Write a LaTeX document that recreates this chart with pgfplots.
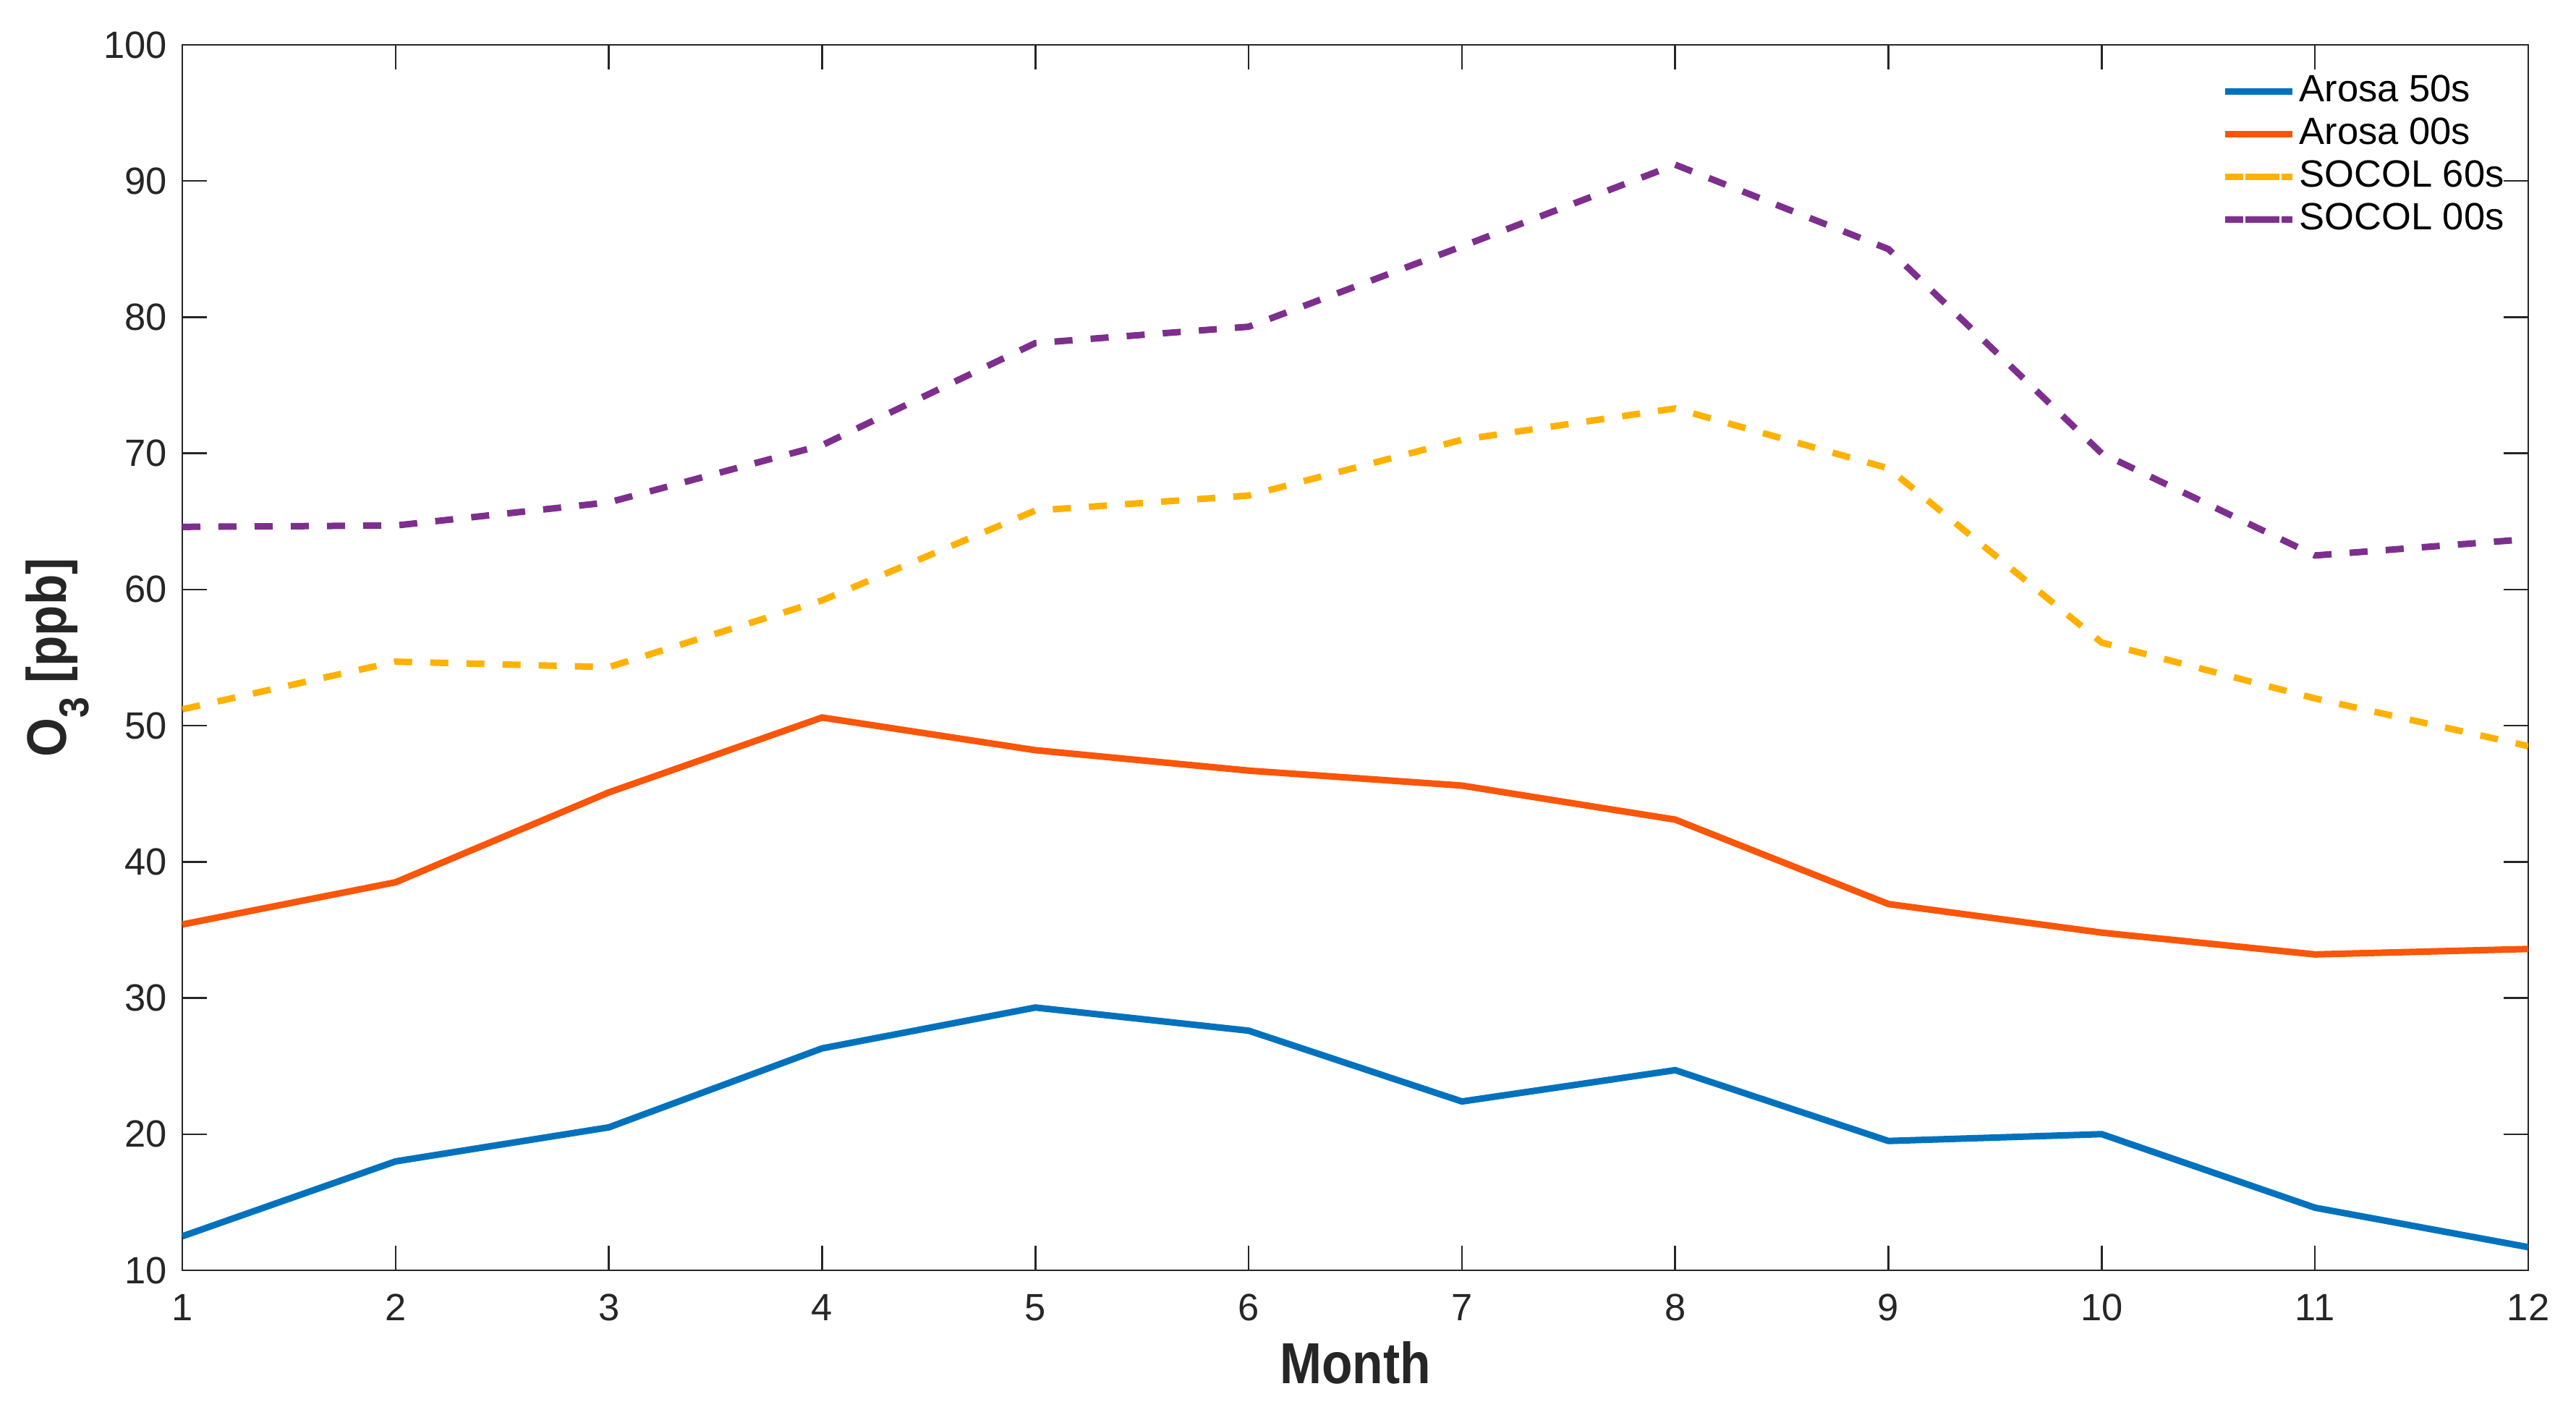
\documentclass[border=0pt]{standalone}
\usepackage{pgfplots}
\pgfplotsset{compat=1.18}
\usepackage{fontspec}
\setmainfont{Liberation Sans}

\definecolor{arosaA}{HTML}{0072BD}
\definecolor{arosaB}{HTML}{FA5508}
\definecolor{socolA}{HTML}{FFB100}
\definecolor{socolB}{HTML}{7E2F8E}
\definecolor{axgray}{HTML}{262626}

\newcommand{\tickfont}{\fontsize{10.5}{12.6}\selectfont}

\begin{document}
\begin{tikzpicture}
  \path[use as bounding box] (-50.4pt,-39.8pt) rectangle (661.8pt,351.2pt);
  \begin{axis}[
      scale only axis, width=648.6pt, height=338.8pt,
      xmin=1, xmax=12, ymin=10, ymax=100,
      xtick={1,...,12}, ytick={10,20,...,100},
      tick align=inside, major tick length=6.8pt,
      axis line style={axgray, line width=0.55pt},
      every tick/.style={axgray, line width=0.5pt},
      /pgf/number format/assume math mode=true,
      ticklabel style={font=\tickfont, text=axgray, inner sep=0pt},
      xticklabel style={anchor=base, yshift=-13.8pt},
      yticklabel style={anchor=east, xshift=-4pt},
      xlabel={\scalebox{0.87}[1]{\fontsize{16}{19}\selectfont\bfseries Month}},
      xlabel style={at={(rel axis cs:0.5,0)}, anchor=base, yshift=-31.2pt, text=axgray},
      ylabel={\scalebox{0.9}[1]{\fontsize{15.4}{17}\selectfont\bfseries O\raisebox{-6.2pt}{\fontsize{11.5}{12}\selectfont 3} [ppb]}},
      ylabel style={at={(rel axis cs:0,0.5)}, anchor=base, yshift=32pt, inner sep=0pt, text=axgray},
      legend cell align=left,
      legend image code/.code={\draw[#1,overlay] (-5.6pt,0pt) -- (12.6pt,0pt); \path (0pt,0pt) -- (13pt,0pt);},
      legend style={at={(rel axis cs:1,1)}, anchor=north east, xshift=-2.5pt, yshift=-4.8pt,
        draw=none, fill=none, font=\tickfont, row sep=0pt,
        nodes={inner sep=1pt, text height=7.6pt, text depth=2.2pt}},
    ]
    \addplot[arosaA, line width=1.8pt] coordinates {
      (1,12.5) (2,18.0) (3,20.5) (4,26.3) (5,29.3) (6,27.6)
      (7,22.4) (8,24.7) (9,19.5) (10,20.0) (11,14.6) (12,11.7)};
    \addlegendentry{Arosa 50s}
    \addplot[arosaB, line width=1.8pt] coordinates {
      (1,35.4) (2,38.5) (3,45.1) (4,50.6) (5,48.2) (6,46.7)
      (7,45.6) (8,43.1) (9,36.9) (10,34.8) (11,33.2) (12,33.6)};
    \addlegendentry{Arosa 00s}
    \addplot[socolA, line width=1.8pt, dash pattern=on 5pt off 5pt] coordinates {
      (1,51.2) (2,54.7) (3,54.3) (4,59.2) (5,65.8) (6,66.9)
      (7,71.0) (8,73.3) (9,68.9) (10,56.1) (11,52.0) (12,48.5)};
    \addlegendentry{SOCOL 60s}
    \addplot[socolB, line width=1.8pt, dash pattern=on 5pt off 5pt] coordinates {
      (1,64.6) (2,64.7) (3,66.4) (4,70.6) (5,78.1) (6,79.3)
      (7,85.2) (8,91.2) (9,85.0) (10,70.0) (11,62.5) (12,63.7)};
    \addlegendentry{SOCOL 00s}
  \end{axis}
\end{tikzpicture}
\end{document}
